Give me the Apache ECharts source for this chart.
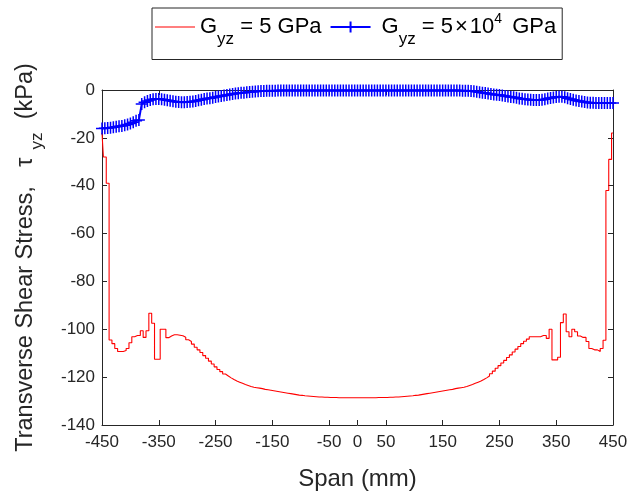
<!DOCTYPE html>
<html>
<head>
<meta charset="utf-8">
<script src="https://cdn.jsdelivr.net/npm/echarts@6/dist/echarts.min.js"></script>
<style>
html,body{margin:0;padding:0;background:#fff;}
#chart{width:632px;height:496px;}
</style>
</head>
<body>
<div id="chart"></div>
<script>
// Span positions (mm), sampled every 5 mm from -450 to 450
const spanStart = -450, spanStep = 5, spanCount = 181;
const span = Array.from({length: spanCount}, (_, i) => spanStart + spanStep * i);

// Transverse shear stress (kPa), G_yz = 5 GPa
const tauSoft = [
  -18, -28, -39, -104.5, -106, -108, -109.3, -109.3, -108.9, -108,
  -105.6, -103.1, -102.6, -102.6, -100.6, -103.4, -100.6, -93.3, -97.5, -112.5,
  -112.5, -100, -100, -103.5, -102.8, -102.3, -102.3, -102.5, -102.7, -103.3,
  -104.4, -105.1, -106.2, -107.5, -108.6, -109.7, -111, -112.1, -113.3, -114.5,
  -115.7, -116.8, -117.7, -118.7, -119.5, -120.3, -121, -121.6, -122.1, -122.6,
  -123.1, -123.5, -123.9, -124.2, -124.4, -124.6, -124.8, -125.1, -125.3, -125.5,
  -125.7, -125.9, -126.1, -126.3, -126.5, -126.7, -126.9, -127.1, -127.3, -127.5,
  -127.6, -127.8, -127.9, -128, -128.1, -128.2, -128.3, -128.3, -128.4, -128.4,
  -128.5, -128.5, -128.5, -128.6, -128.6, -128.6, -128.6, -128.6, -128.6, -128.6,
  -128.6, -128.6, -128.6, -128.6, -128.6, -128.6, -128.6, -128.5, -128.5, -128.5,
  -128.5, -128.4, -128.4, -128.3, -128.3, -128.2, -128.1, -128, -127.9, -127.8,
  -127.6, -127.5, -127.3, -127.1, -126.9, -126.7, -126.5, -126.3, -126.1, -125.9,
  -125.7, -125.5, -125.3, -125.1, -124.8, -124.6, -124.4, -124.2, -123.9, -123.5,
  -123.1, -122.6, -122.1, -121.6, -121, -120.3, -119.5, -118.6, -117.5, -116.3,
  -115.2, -114.1, -113, -111.8, -110.7, -109.5, -108.3, -107.2, -106, -105,
  -104.1, -103.1, -103.1, -103.1, -103.1, -102.6, -102.6, -103.8, -100, -112.8,
  -112.8, -111.7, -97.2, -93.6, -101, -103.1, -100, -101, -102.8, -103.4,
  -103.4, -105.1, -108, -108.6, -108.6, -109.3, -108, -104.6, -42, -29,
  -18
];

// Transverse shear stress (kPa), G_yz = 5x10^4 GPa
const tauStiff = [
  -16.1, -16, -15.9, -15.8, -15.6, -15.4, -15.2, -15, -14.7, -14.4,
  -14, -13.5, -12.9, -12.5, -5.8, -5.1, -4.6, -4.2, -3.9, -3.8,
  -3.8, -3.9, -4.1, -4.3, -4.5, -4.7, -4.9, -5, -5.1, -5.1,
  -5, -4.9, -4.8, -4.6, -4.3, -4.1, -3.8, -3.6, -3.4, -3.2,
  -2.9, -2.7, -2.5, -2.3, -2.1, -1.9, -1.7, -1.5, -1.4, -1.2,
  -1.1, -0.9, -0.8, -0.7, -0.6, -0.5, -0.4, -0.4, -0.3, -0.3,
  -0.3, -0.3, -0.2, -0.2, -0.2, -0.2, -0.2, -0.2, -0.2, -0.2,
  -0.2, -0.2, -0.2, -0.2, -0.2, -0.2, -0.2, -0.2, -0.2, -0.2,
  -0.2, -0.2, -0.2, -0.2, -0.2, -0.2, -0.2, -0.2, -0.2, -0.2,
  -0.2, -0.2, -0.2, -0.2, -0.2, -0.2, -0.2, -0.2, -0.2, -0.2,
  -0.2, -0.2, -0.2, -0.2, -0.2, -0.2, -0.2, -0.2, -0.2, -0.2,
  -0.2, -0.2, -0.2, -0.2, -0.2, -0.2, -0.2, -0.2, -0.2, -0.2,
  -0.2, -0.2, -0.2, -0.2, -0.2, -0.2, -0.2, -0.3, -0.3, -0.3,
  -0.4, -0.5, -0.7, -0.9, -1.1, -1.3, -1.5, -1.7, -1.9, -2,
  -2.1, -2.3, -2.5, -2.7, -2.9, -3, -3.2, -3.5, -3.7, -3.9,
  -4, -4.1, -4.2, -4.2, -4.2, -4.1, -3.9, -3.6, -3.3, -3.1,
  -2.9, -2.8, -2.8, -3, -3.4, -3.8, -4.1, -4.4, -4.6, -4.8,
  -5, -5.2, -5.3, -5.3, -5.4, -5.4, -5.4, -5.4, -5.4, -5.4,
  -5.4
];

// Axis ticks
const xTicks = [-450, -350, -250, -150, -50, 0, 50, 150, 250, 350, 450];
const yMin = -140, yMax = 0, yStep = 20;

const nameSoft = 'Gyz = 5 GPa';
const nameStiff = 'Gyz = 5x10^4 GPa';

const axisColor = '#262626';
const font = 'Liberation Sans, Arial, Helvetica, sans-serif';

const chart = echarts.init(document.getElementById('chart'), null, {renderer: 'canvas'});

const baseX = {
  type: 'value', min: -450, max: 450,
  axisLine: {show: true, onZero: false, lineStyle: {color: axisColor, width: 1}},
  axisTick: {show: true, inside: true, length: 5, customValues: xTicks, lineStyle: {color: axisColor}},
  splitLine: {show: false}
};
const baseY = {
  type: 'value', min: yMin, max: yMax, interval: yStep,
  axisLine: {show: true, onZero: false, lineStyle: {color: axisColor, width: 1}},
  axisTick: {show: true, inside: true, length: 5, lineStyle: {color: axisColor}},
  splitLine: {show: false}
};

const txt = {color: '#000', fontFamily: font};

const option = {
  backgroundColor: '#fff',
  animation: false,
  textStyle: {fontFamily: font},
  grid: {left: 102, right: 19, top: 90, bottom: 71, containLabel: false},
  legend: {
    top: 8, left: 152,
    orient: 'horizontal',
    padding: [4, 6, 12, 3],
    itemGap: 8,
    itemWidth: 40,
    itemHeight: 14,
    borderColor: axisColor,
    borderWidth: 1,
    backgroundColor: '#fff',
    data: [
      {name: nameSoft, icon: 'path://M0,0H40V1H0Z'},
      {name: nameStiff}
    ],
    formatter: function (n) {
      if (n === nameSoft) return '{m|G}{sub|yz}{m| = 5 GPa}';
      return '{g2|G}{sub|yz}{m| = 5}{x|×}{m|10}{sup|4}{s| GPa}';
    },
    textStyle: {
      color: '#000', fontFamily: font, fontSize: 22,
      rich: {
        m: Object.assign({fontSize: 22}, txt),
        g2: Object.assign({fontSize: 22, padding: [0, 0, 0, 6]}, txt),
        x: Object.assign({fontSize: 22, padding: [0, 2, 0, 2]}, txt),
        s: Object.assign({fontSize: 22, padding: [0, 0, 0, 4]}, txt),
        sub: Object.assign({fontSize: 17, padding: [24, 0, 0, 0]}, txt),
        sup: Object.assign({fontSize: 14, padding: [0, 0, 16, 0]}, txt)
      }
    }
  },
  xAxis: [
    Object.assign({}, baseX, {
      position: 'bottom',
      axisLabel: {show: true, customValues: xTicks, fontSize: 17, color: axisColor, margin: 9, fontFamily: font},
      name: 'Span (mm)', nameLocation: 'middle', nameGap: 42,
      nameTextStyle: {fontSize: 24, color: axisColor, fontFamily: font}
    }),
    Object.assign({}, baseX, {position: 'top', axisLabel: {show: false}})
  ],
  yAxis: [
    Object.assign({}, baseY, {
      position: 'left',
      axisLabel: {show: true, fontSize: 17, color: axisColor, margin: 7, fontFamily: font},
      name: 'Transverse Shear Stress,   {t|τ}{sub|yz}  (kPa)',
      nameLocation: 'middle', nameGap: 56, nameRotate: 90,
      nameTextStyle: {
        fontSize: 23.5, color: axisColor, fontFamily: font,
        rich: {
          t: {fontSize: 23.5, color: axisColor, fontFamily: font, padding: [0, 8, 0, 0]},
          sub: {fontSize: 17, color: axisColor, fontFamily: font, padding: [24, 0, 0, 0]}
        }
      }
    }),
    Object.assign({}, baseY, {position: 'right', axisLabel: {show: false}})
  ],
  series: [
    {
      name: nameSoft, type: 'line', step: 'middle',
      xAxisIndex: 0, yAxisIndex: 0,
      data: span.map((x, i) => [x, tauSoft[i]]),
      symbol: 'none', showSymbol: false,
      lineStyle: {color: '#ff0000', width: 1.1},
      itemStyle: {color: '#ff0000'},
      z: 2
    },
    {
      name: nameStiff, type: 'line',
      xAxisIndex: 0, yAxisIndex: 0,
      data: span.map((x, i) => [x, tauStiff[i]]),
      symbol: 'path://M0,6L12,6M6,0L6,12', symbolSize: 12, showSymbol: true,
      lineStyle: {color: '#0000ff', width: 2},
      itemStyle: {color: '#0000ff', borderColor: '#0000ff', borderWidth: 1.5},
      clip: false,
      z: 3
    }
  ]
};
chart.setOption(option);
</script>
</body>
</html>
